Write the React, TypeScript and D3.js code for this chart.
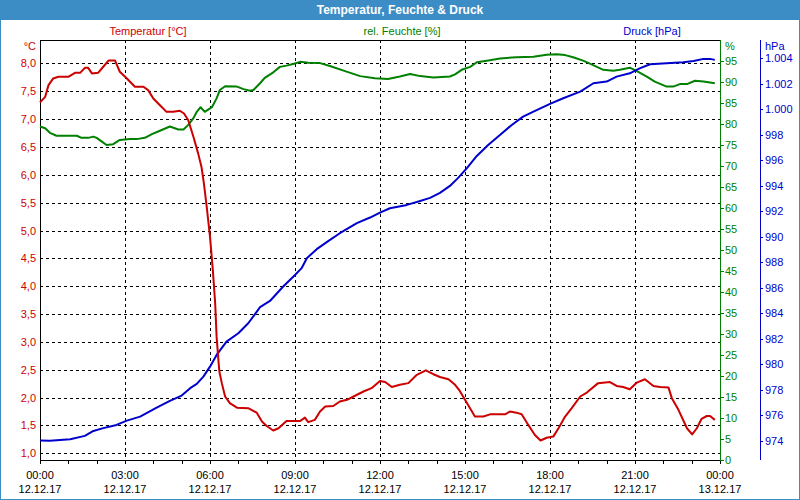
import { useEffect, useRef } from "react";
import * as d3 from "d3";

const tempTimes = ["00:00", "00:11", "00:18", "00:28", "00:39", "01:00", "01:14", "01:25", "01:35", "01:42", "01:50", "02:03", "02:14", "02:25", "02:39", "02:49", "03:04", "03:21", "03:39", "03:49", "04:00", "04:14", "04:28", "04:42", "04:56", "05:05", "05:14", "05:25", "05:35", "05:42", "05:47", "05:53", "06:00", "06:06", "06:11", "06:14", "06:18", "06:20", "06:25", "06:32", "06:42", "06:57", "07:21", "07:39", "07:50", "08:00", "08:14", "08:25", "08:42", "09:11", "09:21", "09:28", "09:42", "09:53", "10:04", "10:21", "10:35", "10:50", "11:04", "11:25", "11:42", "12:00", "12:11", "12:25", "12:42", "13:00", "13:18", "13:37", "13:53", "14:07", "14:25", "14:39", "14:49", "15:00", "15:21", "15:39", "15:53", "16:25", "16:35", "16:49", "17:00", "17:14", "17:28", "17:40", "17:53", "18:07", "18:18", "18:32", "18:46", "19:04", "19:18", "19:42", "20:07", "20:21", "20:35", "20:49", "21:04", "21:21", "21:39", "21:53", "22:11", "22:18", "22:32", "22:50", "23:01", "23:11", "23:21", "23:32", "23:39", "23:49"];
const tempValues = [7.3, 7.4, 7.61, 7.73, 7.76, 7.76, 7.83, 7.83, 7.92, 7.92, 7.82, 7.83, 7.94, 8.05, 8.05, 7.85, 7.73, 7.58, 7.58, 7.52, 7.37, 7.25, 7.13, 7.13, 7.15, 7.1, 6.98, 6.68, 6.38, 6.14, 5.85, 5.43, 4.89, 4.29, 3.69, 3.09, 2.65, 2.46, 2.26, 2.02, 1.9, 1.82, 1.81, 1.73, 1.57, 1.49, 1.41, 1.45, 1.58, 1.58, 1.64, 1.56, 1.6, 1.75, 1.84, 1.85, 1.93, 1.96, 2.02, 2.11, 2.17, 2.3, 2.28, 2.19, 2.23, 2.26, 2.41, 2.49, 2.42, 2.37, 2.33, 2.23, 2.12, 1.96, 1.66, 1.66, 1.7, 1.7, 1.75, 1.73, 1.7, 1.51, 1.33, 1.23, 1.28, 1.3, 1.45, 1.66, 1.81, 2.02, 2.09, 2.26, 2.28, 2.21, 2.19, 2.15, 2.27, 2.33, 2.21, 2.19, 2.18, 1.99, 1.78, 1.45, 1.34, 1.45, 1.62, 1.67, 1.67, 1.6];

const humTimes = ["00:00", "00:11", "00:21", "00:35", "01:18", "01:28", "01:42", "01:53", "02:00", "02:11", "02:21", "02:35", "02:49", "03:11", "03:25", "03:42", "03:57", "04:14", "04:35", "04:53", "05:04", "05:14", "05:25", "05:32", "05:40", "05:49", "06:04", "06:14", "06:21", "06:32", "06:57", "07:11", "07:25", "07:32", "07:46", "07:56", "08:14", "08:28", "08:42", "08:56", "09:11", "09:28", "09:53", "10:14", "10:46", "11:18", "11:49", "12:17", "12:42", "13:04", "13:25", "13:53", "14:28", "14:39", "14:53", "15:11", "15:25", "15:53", "16:14", "16:49", "17:25", "17:53", "18:14", "18:32", "18:49", "19:10", "19:28", "19:53", "20:14", "20:28", "20:49", "21:04", "21:25", "21:42", "22:07", "22:21", "22:35", "22:50", "23:07", "23:25", "23:49"];
const humValues = [79.4, 79.0, 77.9, 77.2, 77.2, 76.7, 76.7, 77.0, 76.7, 75.8, 75.0, 75.2, 76.2, 76.4, 76.4, 76.7, 77.6, 78.4, 79.4, 78.7, 78.7, 79.8, 81.4, 82.9, 84.0, 82.9, 84.0, 86.1, 88.1, 89.0, 88.9, 88.3, 87.9, 88.1, 89.7, 91.0, 92.3, 93.6, 93.9, 94.3, 94.8, 94.6, 94.5, 93.8, 92.6, 91.4, 90.9, 90.7, 91.3, 91.9, 91.4, 91.1, 91.3, 91.8, 92.9, 93.6, 94.7, 95.2, 95.6, 95.9, 96.0, 96.5, 96.6, 96.4, 95.9, 95.1, 94.2, 92.9, 92.7, 92.9, 93.4, 92.6, 91.3, 90.1, 88.9, 88.9, 89.5, 89.5, 90.3, 90.1, 89.7];

const pressTimes = ["00:00", "00:21", "01:04", "01:35", "01:53", "02:14", "02:42", "03:04", "03:32", "04:07", "04:35", "05:00", "05:18", "05:32", "05:46", "06:00", "06:14", "06:35", "07:00", "07:21", "07:46", "08:07", "08:35", "09:00", "09:14", "09:25", "09:46", "10:11", "10:35", "11:11", "11:39", "12:00", "12:21", "12:57", "13:25", "13:46", "14:07", "14:28", "14:45", "15:04", "15:25", "15:49", "16:14", "16:39", "17:03", "17:25", "18:00", "18:28", "19:04", "19:32", "20:00", "20:21", "20:49", "21:11", "21:32", "22:07", "22:42", "23:04", "23:25", "23:39", "23:49"];
const pressValues = [974.02, 974.0, 974.13, 974.39, 974.78, 975.0, 975.25, 975.59, 975.9, 976.61, 977.14, 977.55, 978.13, 978.47, 979.04, 979.82, 980.74, 981.78, 982.44, 983.22, 984.48, 984.97, 986.1, 987.01, 987.54, 988.32, 989.03, 989.68, 990.28, 991.07, 991.51, 991.9, 992.24, 992.5, 992.81, 993.05, 993.44, 993.99, 994.6, 995.38, 996.34, 997.2, 997.99, 998.77, 999.42, 999.81, 1000.42, 1000.86, 1001.38, 1002.04, 1002.17, 1002.56, 1002.82, 1003.22, 1003.53, 1003.61, 1003.69, 1003.79, 1003.95, 1003.95, 1003.87];

const tempTicks = [1, 1.5, 2, 2.5, 3, 3.5, 4, 4.5, 5, 5.5, 6, 6.5, 7, 7.5, 8];
const humTicks = [0, 5, 10, 15, 20, 25, 30, 35, 40, 45, 50, 55, 60, 65, 70, 75, 80, 85, 90, 95];
const pressTicks = [974, 976, 978, 980, 982, 984, 986, 988, 990, 992, 994, 996, 998, 1000, 1002, 1004];
const timeTicks = ["12.12.17 00:00", "12.12.17 03:00", "12.12.17 06:00", "12.12.17 09:00", "12.12.17 12:00", "12.12.17 15:00", "12.12.17 18:00", "12.12.17 21:00", "13.12.17 00:00"];

const RED = "#cc0000";
const GREEN = "#008000";
const BLUE = "#0000cc";
const FONT = "Liberation Sans, Arial, sans-serif";

const de = d3.formatLocale({ decimal: ",", thousands: ".", grouping: [3], currency: ["", " €"] });
const parse = d3.timeParse("%d.%m.%y %H:%M");
const day = (t: string) => parse("12.12.17 " + t) as Date;

export default function App() {
  const ref = useRef<SVGSVGElement | null>(null);
  const width = 800;
  const height = 500;
  const plot = { left: 40, right: 720, top: 40, bottom: 460 };

  useEffect(() => {
    const svg = d3.select(ref.current);
    svg.selectAll("*").remove();

    const x = d3.scaleTime()
      .domain([parse("12.12.17 00:00") as Date, parse("13.12.17 00:00") as Date])
      .range([plot.left, plot.right]);
    const yT = d3.scaleLinear().domain([0.88, 8.42]).range([plot.bottom, plot.top]);
    const yH = d3.scaleLinear().domain([0, 100]).range([plot.bottom, plot.top]);
    const yP = d3.scaleLinear().domain([972.5, 1005.43]).range([plot.bottom, plot.top]);

    // frame + title bar
    svg.append("rect").attr("width", width).attr("height", height).attr("fill", "#ffffff");
    svg.append("rect").attr("x", 0.5).attr("y", 0.5).attr("width", width - 1).attr("height", height - 1)
      .attr("fill", "none").attr("stroke", "#3c8dc5");
    svg.append("rect").attr("width", width).attr("height", 20).attr("fill", "#3c8dc5");
    svg.append("text").attr("x", width / 2).attr("y", 14).attr("text-anchor", "middle")
      .attr("fill", "white").attr("font-weight", "bold").attr("font-size", "12px")
      .attr("font-family", FONT).text("Temperatur, Feuchte & Druck");

    const legend = [
      { label: "Temperatur [°C]", x: 148, color: RED },
      { label: "rel. Feuchte [%]", x: 402, color: GREEN },
      { label: "Druck [hPa]", x: 652, color: BLUE },
    ];
    svg.selectAll("text.legend").data(legend).enter().append("text")
      .attr("class", "legend").attr("x", (d) => d.x).attr("y", 35).attr("text-anchor", "middle")
      .attr("fill", (d) => d.color).attr("font-size", "11px").attr("font-family", FONT).text((d) => d.label);

    // grid
    const grid = svg.append("g").attr("stroke", "#000").attr("stroke-dasharray", "3,3").attr("shape-rendering", "crispEdges");
    grid.selectAll("line.h").data(tempTicks).enter().append("line")
      .attr("x1", plot.left).attr("x2", plot.right)
      .attr("y1", (d) => Math.round(yT(d)) + 0.5).attr("y2", (d) => Math.round(yT(d)) + 0.5);
    const vTicks = timeTicks.slice(1, -1).map((t) => parse(t) as Date);
    grid.selectAll("line.v").data(vTicks).enter().append("line")
      .attr("y1", plot.top).attr("y2", plot.bottom)
      .attr("x1", (d) => Math.round(x(d)) + 0.5).attr("x2", (d) => Math.round(x(d)) + 0.5);

    // axes lines
    const axes = svg.append("g").attr("shape-rendering", "crispEdges");
    axes.append("line").attr("x1", plot.left + 0.5).attr("x2", plot.left + 0.5).attr("y1", plot.top).attr("y2", plot.bottom).attr("stroke", "#000");
    axes.append("line").attr("x1", plot.left).attr("x2", plot.right).attr("y1", plot.top + 0.5).attr("y2", plot.top + 0.5).attr("stroke", "#000");
    axes.append("line").attr("x1", plot.left).attr("x2", plot.right).attr("y1", plot.bottom + 0.5).attr("y2", plot.bottom + 0.5).attr("stroke", "#000");
    axes.append("line").attr("x1", plot.right + 0.5).attr("x2", plot.right + 0.5).attr("y1", plot.top).attr("y2", plot.bottom + 1).attr("stroke", GREEN);
    axes.append("line").attr("x1", 760.5).attr("x2", 760.5).attr("y1", plot.top).attr("y2", plot.bottom).attr("stroke", BLUE);

    // x axis: hourly minor ticks + labels
    const hours = d3.timeHour.range(x.domain()[0], d3.timeHour.offset(x.domain()[1], 1));
    axes.selectAll("line.xt").data(hours).enter().append("line")
      .attr("x1", (d) => Math.round(x(d)) + 0.5).attr("x2", (d) => Math.round(x(d)) + 0.5)
      .attr("y1", plot.bottom).attr("y2", plot.bottom + 4).attr("stroke", "#000");
    const fmtTime = d3.timeFormat("%H:%M");
    const fmtDate = d3.timeFormat("%d.%m.%y");
    const xl = svg.append("g").attr("font-size", "11px").attr("font-family", FONT).attr("text-anchor", "middle").attr("fill", "#000");
    timeTicks.forEach((t) => {
      const d = parse(t) as Date;
      xl.append("text").attr("x", x(d)).attr("y", 479).text(fmtTime(d));
      xl.append("text").attr("x", x(d)).attr("y", 493).text(fmtDate(d));
    });

    // left axis (temperature)
    const fT = de.format(".1f");
    const lt = svg.append("g").attr("font-size", "11px").attr("font-family", FONT).attr("fill", RED).attr("text-anchor", "end");
    lt.selectAll("text").data(tempTicks).enter().append("text")
      .attr("x", 36).attr("y", (d) => yT(d) + 4).text((d) => fT(d));
    lt.append("text").attr("x", 36).attr("y", 50).text("°C");

    // right axis (humidity)
    const rh = svg.append("g").attr("font-size", "11px").attr("font-family", FONT).attr("fill", GREEN);
    rh.selectAll("line").data(humTicks).enter().append("line")
      .attr("x1", plot.right).attr("x2", plot.right + 4)
      .attr("y1", (d) => Math.round(yH(d)) + 0.5).attr("y2", (d) => Math.round(yH(d)) + 0.5)
      .attr("stroke", GREEN).attr("shape-rendering", "crispEdges");
    rh.selectAll("text").data(humTicks).enter().append("text")
      .attr("x", 725).attr("y", (d) => yH(d) + 4).text((d) => d);
    rh.append("text").attr("x", 725).attr("y", 50).text("%");

    // far right axis (pressure)
    const fP = de.format(",d");
    const rp = svg.append("g").attr("font-size", "11px").attr("font-family", FONT).attr("fill", BLUE);
    rp.selectAll("line").data(pressTicks).enter().append("line")
      .attr("x1", 760).attr("x2", 763)
      .attr("y1", (d) => Math.round(yP(d)) + 0.5).attr("y2", (d) => Math.round(yP(d)) + 0.5)
      .attr("stroke", BLUE).attr("shape-rendering", "crispEdges");
    rp.selectAll("text").data(pressTicks).enter().append("text")
      .attr("x", 765).attr("y", (d) => yP(d) + 4).text((d) => fP(d));
    rp.append("text").attr("x", 765).attr("y", 50).text("hPa");

    // series
    const series = [
      { times: humTimes, values: humValues, y: yH, color: GREEN },
      { times: pressTimes, values: pressValues, y: yP, color: BLUE },
      { times: tempTimes, values: tempValues, y: yT, color: RED },
    ];
    series.forEach((s) => {
      const pts = s.times.map((t, i) => [day(t), s.values[i]] as [Date, number]);
      const line = d3.line<[Date, number]>().x((d) => x(d[0])).y((d) => s.y(d[1]));
      svg.append("path").datum(pts).attr("d", line).attr("fill", "none")
        .attr("stroke", s.color).attr("stroke-width", 2).attr("stroke-linejoin", "round");
    });
  }, []);

  return (
    <svg ref={ref} width={width} height={height} style={{ position: "absolute", left: 0, top: 0 }}></svg>
  );
}
